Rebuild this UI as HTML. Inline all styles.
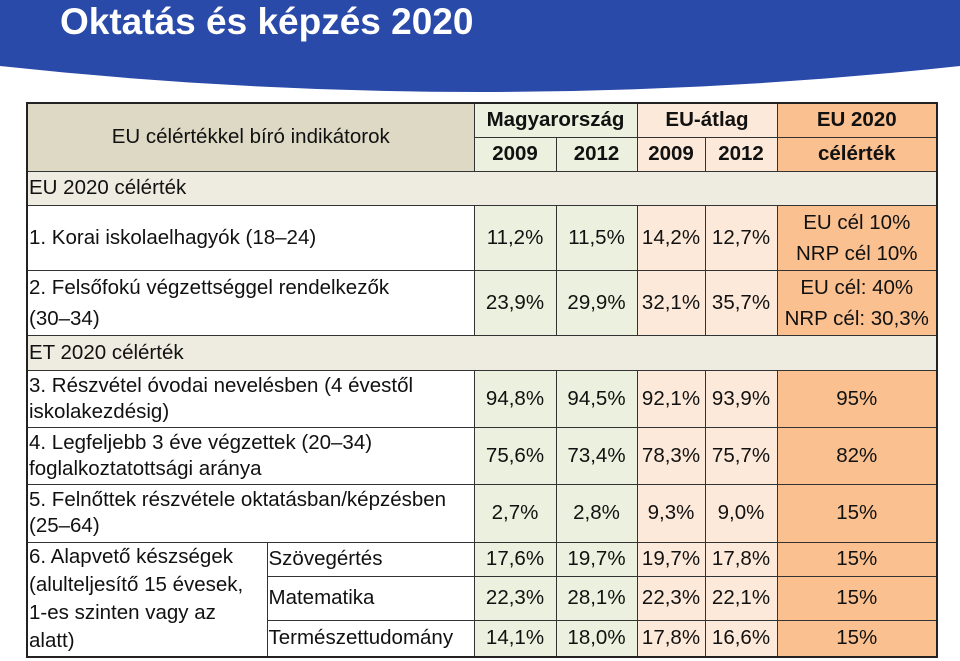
<!DOCTYPE html>
<html><head><meta charset="utf-8">
<style>
body{margin:0;width:960px;height:661px;background:#fff;position:relative;overflow:hidden;font-family:"Liberation Sans",Arial,sans-serif;}
#banner{position:absolute;left:0;top:0;width:960px;height:100px;}
#title{position:absolute;left:60px;top:0px;font-size:37px;font-weight:bold;color:#fff;line-height:44px;}
table{position:absolute;left:26px;top:102px;border-collapse:collapse;table-layout:fixed;border:2px solid #222;font-size:20.5px;color:#111;}
td{border:1px solid #333;padding:0 1px;overflow:hidden;white-space:nowrap;line-height:22px;}
.h{background:#ddd9c4;}
.b{font-weight:bold;}
.g{background:#ebf1de;text-align:center;}
.p{background:#fde9d9;text-align:center;}
.o{background:#fac090;text-align:center;}
.s{background:#eeece1;}
.w{background:#fff;}
.l2{line-height:26px;}
</style></head><body>
<svg id="banner" viewBox="0 0 960 100" preserveAspectRatio="none"><path d="M0 0H960V66Q480 118 0 66Z" fill="#2a4aaa"/></svg>
<div id="title">Oktatás és képzés 2020</div>
<table>
<colgroup><col style="width:240px"><col style="width:207px"><col style="width:82px"><col style="width:81px"><col style="width:68px"><col style="width:72px"><col style="width:160px"></colgroup>
<tr style="height:34px"><td class="h" colspan="2" rowspan="2" style="text-align:center">EU célértékkel bíró indikátorok</td><td class="g b" colspan="2">Magyarország</td><td class="p b" colspan="2">EU-átlag</td><td class="o b">EU 2020</td></tr>
<tr style="height:34px"><td class="g b">2009</td><td class="g b">2012</td><td class="p b">2009</td><td class="p b">2012</td><td class="o b">célérték</td></tr>
<tr style="height:34px"><td class="s" colspan="7">EU 2020 célérték</td></tr>
<tr style="height:65px"><td class="w" colspan="2">1. Korai iskolaelhagyók (18–24)</td><td class="g">11,2%</td><td class="g">11,5%</td><td class="p">14,2%</td><td class="p">12,7%</td><td class="o" style="line-height:31px">EU cél 10%<br>NRP cél 10%</td></tr>
<tr style="height:65px"><td class="w" colspan="2" style="line-height:31px">2. Felsőfokú végzettséggel rendelkezők<br>(30–34)</td><td class="g">23,9%</td><td class="g">29,9%</td><td class="p">32,1%</td><td class="p">35,7%</td><td class="o" style="line-height:31px;padding:0">EU cél: 40%<br>NRP cél: 30,3%</td></tr>
<tr style="height:35px"><td class="s" colspan="7">ET 2020 célérték</td></tr>
<tr style="height:57px"><td class="w l2" colspan="2">3. Részvétel óvodai nevelésben (4 évestől<br>iskolakezdésig)</td><td class="g">94,8%</td><td class="g">94,5%</td><td class="p">92,1%</td><td class="p">93,9%</td><td class="o">95%</td></tr>
<tr style="height:57px"><td class="w l2" colspan="2">4. Legfeljebb 3 éve végzettek (20–34)<br>foglalkoztatottsági aránya</td><td class="g">75,6%</td><td class="g">73,4%</td><td class="p">78,3%</td><td class="p">75,7%</td><td class="o">82%</td></tr>
<tr style="height:58px"><td class="w l2" colspan="2">5. Felnőttek részvétele oktatásban/képzésben<br>(25–64)</td><td class="g">2,7%</td><td class="g">2,8%</td><td class="p">9,3%</td><td class="p">9,0%</td><td class="o">15%</td></tr>
<tr style="height:34px"><td class="w" rowspan="3" style="line-height:28px;vertical-align:top">6. Alapvető készségek<br>(alulteljesítő 15 évesek,<br>1-es szinten vagy az<br>alatt)</td><td class="w">Szövegértés</td><td class="g">17,6%</td><td class="g">19,7%</td><td class="p">19,7%</td><td class="p">17,8%</td><td class="o">15%</td></tr>
<tr style="height:44px"><td class="w">Matematika</td><td class="g">22,3%</td><td class="g">28,1%</td><td class="p">22,3%</td><td class="p">22,1%</td><td class="o">15%</td></tr>
<tr style="height:37px"><td class="w">Természettudomány</td><td class="g">14,1%</td><td class="g">18,0%</td><td class="p">17,8%</td><td class="p">16,6%</td><td class="o">15%</td></tr>
</table>
</body></html>
